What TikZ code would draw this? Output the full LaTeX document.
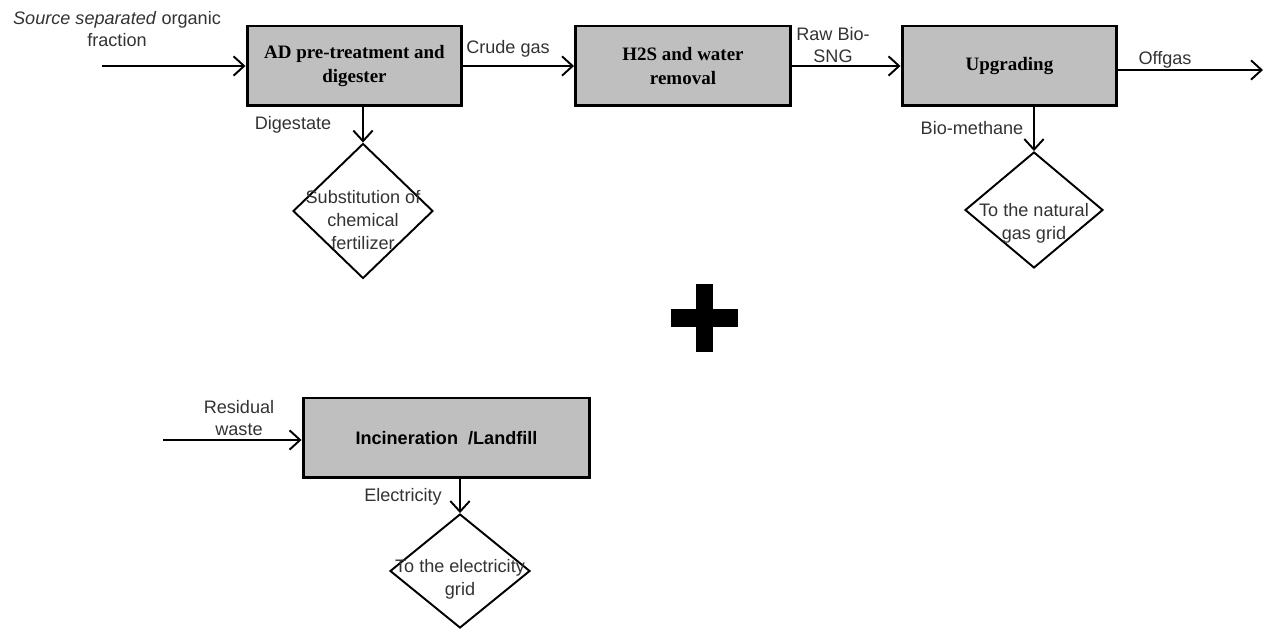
\documentclass[tikz,border=0pt]{standalone}
\usepackage{fontspec}
\setmainfont{Liberation Serif}
\setsansfont{Liberation Sans}
\usetikzlibrary{arrows.meta,shapes.geometric,calc}
\definecolor{BoxClr}{rgb}{0.75,0.75,0.75}
\definecolor{TxtClr}{rgb}{0.2,0.2,0.2}

\begin{document}
\begin{tikzpicture}[x=0.02cm,y=-0.02cm,
  proc/.style={draw,line width=1.7pt,fill=BoxClr,minimum width=4.3cm,minimum height=1.6cm,
    align=center,font=\fontsize{10.8}{13.6}\selectfont\bfseries},
  dia/.style={draw,diamond,line width=1.1pt,minimum width=2.8cm,minimum height=2.7cm,inner sep=0pt},
  lbl/.style={font=\sffamily\fontsize{10.3}{13}\selectfont,text=TxtClr,align=center,inner sep=0pt},
  flow/.style={line width=1.1pt,-{Straight Barb[length=6pt,width=11pt]}}]
\useasboundingbox (0,0) rectangle (1276,631);

% process boxes
\node[proc] (ad) at (354.5,66) {AD pre-treatment and\\digester};
\node[proc] (hs) at (683,66) {H2S and water\\removal};
\node[proc] (up) at (1009.5,66) {Upgrading};
\node[proc,minimum width=5.74cm,font=\sffamily\fontsize{10.3}{13}\selectfont\bfseries] (inc) at (446.5,438) {Incineration\ \ /Landfill};

% end uses
\node[dia] (sub) at (363,211) {};
\node[dia,minimum width=2.76cm,minimum height=2.32cm] (gas) at (1034,210) {};
\node[dia,minimum height=2.28cm] (ele) at (460,571) {};
\node[lbl] (subtxt) at (363,220) {Substitution of\\chemical\\fertilizer};
\node[lbl] (gastxt) at (1034,223) {To the natural\\gas grid};
\node[lbl] (eletxt) at (460,579) {To the electricity\\grid};

\coordinate (src) at (102,66);
\coordinate (res) at (163,440);
\coordinate (off) at (1263,70);

\draw[flow] (src) -- (ad);
\draw[flow] (ad) -- (hs);
\draw[flow] (hs) -- (up);
\draw[flow] (up.east |- off) -- (off);
\draw[flow] (res) -- (res -| inc.west);
\draw[flow] (ad.south -| sub) -- (sub);
\draw[flow] (up.south -| gas) -- (gas);
\draw[flow] (inc.south -| ele) -- (ele);

% flow labels
\node[lbl] (srclbl) at (117,29) {\textit{Source separated} organic\\fraction};
\node[lbl] (crude) at (508,49) {Crude gas};
\node[lbl] (raw) at (833,45) {Raw Bio-\\SNG};
\node[lbl] (offlbl) at (1165,60) {Offgas};
\node[lbl] (dig) at (293,125) {Digestate};
\node[lbl] (bio) at (972,128) {Bio-methane};
\node[lbl] (resl) at (239,418) {Residual\\waste};
\node[lbl] (elel) at (403,497) {Electricity};

% plus
\fill (696,284) rectangle (713,352);
\fill (671,309) rectangle (738,327);

\end{tikzpicture}
\end{document}
